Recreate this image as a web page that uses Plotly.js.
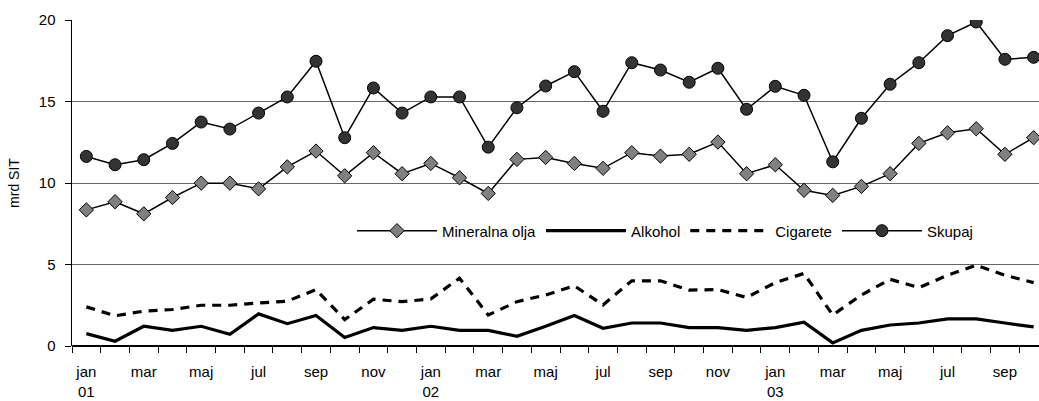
<!DOCTYPE html>
<html>
<head>
<meta charset="utf-8">
<script src="https://cdn.plot.ly/plotly-3.0.1.min.js"></script>
<style>
html,body{margin:0;padding:0;overflow:hidden;background:#fff;}
#chart{width:1060px;height:401px;}
</style>
</head>
<body>
<div id="chart"></div>
<script>
const categories = [
  "jan 01","feb 01","mar 01","apr 01","maj 01","jun 01","jul 01","avg 01","sep 01","okt 01","nov 01","dec 01",
  "jan 02","feb 02","mar 02","apr 02","maj 02","jun 02","jul 02","avg 02","sep 02","okt 02","nov 02","dec 02",
  "jan 03","feb 03","mar 03","apr 03","maj 03","jun 03","jul 03","avg 03","sep 03","okt 03"
];
const tickLabels = ["jan<br>01","mar","maj","jul","sep","nov","jan<br>02","mar","maj","jul","sep","nov","jan<br>03","mar","maj","jul","sep"];

const mineralnaOlja = [8.35,8.85,8.11,9.11,9.99,9.99,9.64,10.99,11.96,10.44,11.86,10.57,
  11.2,10.32,9.36,11.45,11.57,11.2,10.9,11.86,11.65,11.76,12.51,10.57,
  11.12,9.55,9.24,9.79,10.57,12.43,13.08,13.33,11.76,12.78];
const alkohol = [0.76,0.29,1.21,0.96,1.21,0.72,1.97,1.37,1.87,0.52,1.13,0.96,
  1.21,0.96,0.96,0.6,1.21,1.87,1.09,1.41,1.41,1.13,1.13,0.96,
  1.13,1.46,0.19,0.96,1.29,1.41,1.66,1.66,1.41,1.17];
const cigarete = [2.4,1.85,2.14,2.24,2.5,2.5,2.64,2.75,3.46,1.62,2.87,2.72,
  2.89,4.16,1.9,2.72,3.13,3.69,2.52,4.0,4.0,3.43,3.46,2.98,
  3.89,4.45,1.9,3.13,4.09,3.58,4.34,4.96,4.34,3.89];
const skupaj = [11.63,11.12,11.43,12.43,13.74,13.31,14.29,15.28,17.47,12.78,15.83,14.29,
  15.28,15.28,12.2,14.62,15.95,16.83,14.4,17.38,16.93,16.18,17.04,14.52,
  15.93,15.38,11.3,13.97,16.06,17.38,19.04,19.88,17.59,17.71];

const xs = categories.map((c, i) => i);
const tickPos = [];
for (let i = 0; i < categories.length; i += 2) tickPos.push(i);

const font = {family: '"Liberation Sans", Arial, sans-serif', size: 15, color: '#000'};

const traces = [
  {name: 'Mineralna olja', x: xs, y: mineralnaOlja, text: categories, type: 'scatter', mode: 'lines+markers',
   line: {color: '#000', width: 1.5},
   marker: {symbol: 'diamond', size: 11, color: '#808080', line: {color: '#000', width: 1}}},
  {name: 'Alkohol', x: xs, y: alkohol, text: categories, type: 'scatter', mode: 'lines',
   line: {color: '#000', width: 3.2}},
  {name: 'Cigarete', x: xs, y: cigarete, text: categories, type: 'scatter', mode: 'lines',
   line: {color: '#000', width: 3.2, dash: '9px,7px'}},
  {name: 'Skupaj', x: xs, y: skupaj, text: categories, type: 'scatter', mode: 'lines+markers',
   line: {color: '#000', width: 1.5},
   marker: {symbol: 'circle', size: 12, color: '#333333', line: {color: '#000', width: 1}}}
];

const layout = {
  width: 1060, height: 401,
  margin: {l: 72, r: 12, t: 20, b: 55},
  paper_bgcolor: '#fff', plot_bgcolor: '#fff',
  font: font,
  showlegend: true,
  legend: {orientation: 'h', x: 0.6076, y: 0.353, xanchor: 'center', yanchor: 'middle',
           bgcolor: 'rgba(0,0,0,0)', font: font, itemwidth: 80, tracegroupgap: 0},
  xaxis: {
    range: [-0.5, 33.5], showgrid: false, zeroline: false,
    showline: false,
    tickmode: 'array', tickvals: tickPos, ticktext: tickLabels, ticks: '',
    tickfont: font, ticklabelstandoff: 15,
    minor: {ticks: 'outside', tick0: -0.5, dtick: 1, ticklen: 6, tickcolor: '#000', tickwidth: 1, showgrid: false}
  },
  yaxis: {
    range: [0, 20], tickvals: [0,5,10,15,20], ticks: 'outside', ticklen: 6, tickcolor: '#000',
    showline: true, linecolor: '#000', linewidth: 1.5,
    showgrid: true, gridcolor: '#666', gridwidth: 1,
    zeroline: true, zerolinecolor: '#000', zerolinewidth: 1.5,
    tickfont: font, ticklabelstandoff: 6,
    title: {text: 'mrd SIT', font: {family: font.family, size: 14, color: '#000'}, standoff: 16}
  }
};

Plotly.newPlot('chart', traces, layout, {displayModeBar: false, staticPlot: true});
</script>
</body>
</html>
